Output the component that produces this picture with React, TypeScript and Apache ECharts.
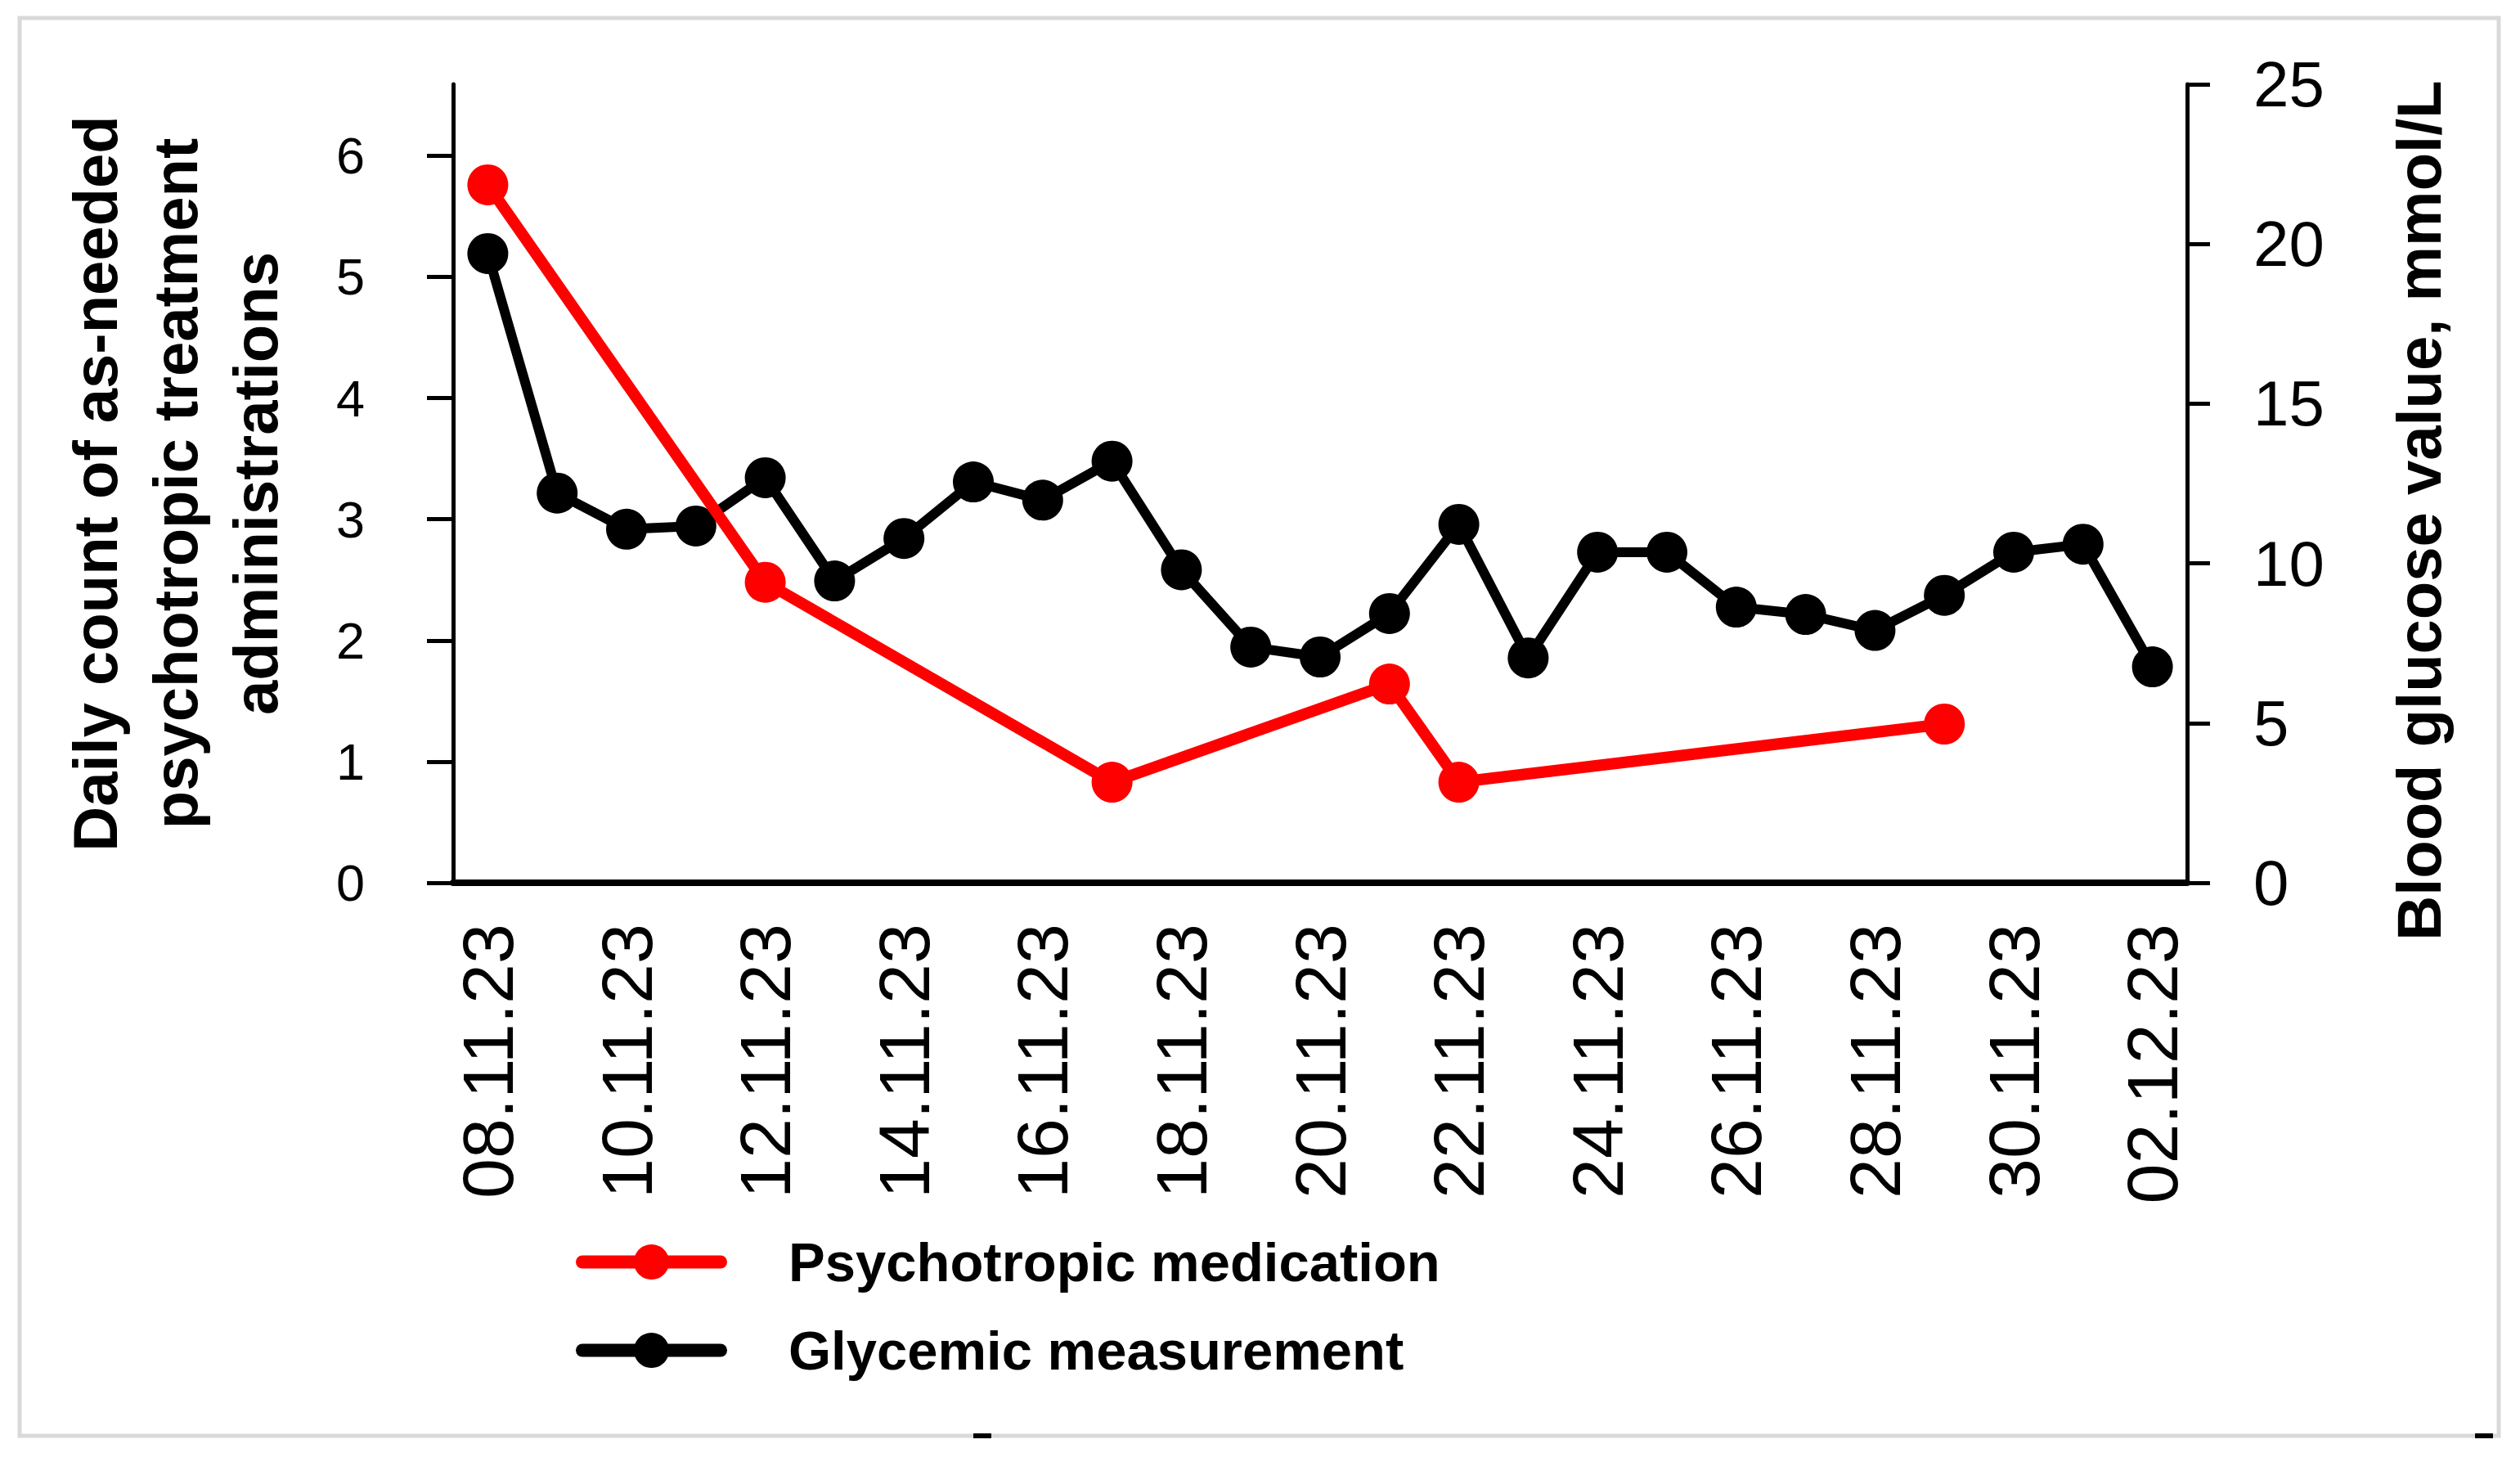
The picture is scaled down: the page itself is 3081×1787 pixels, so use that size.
import React, { useEffect, useRef } from "react";
import * as echarts from "echarts";

const dates = [
  "08.11.23", "09.11.23", "10.11.23", "11.11.23", "12.11.23", "13.11.23", "14.11.23",
  "15.11.23", "16.11.23", "17.11.23", "18.11.23", "19.11.23", "20.11.23", "21.11.23",
  "22.11.23", "23.11.23", "24.11.23", "25.11.23", "26.11.23", "27.11.23", "28.11.23",
  "29.11.23", "30.11.23", "01.12.23", "02.12.23",
];

const glucose = [
  19.7, 12.2, 11.07, 11.17, 12.68, 9.45, 10.78, 12.55, 11.98, 13.2, 9.8, 7.38, 7.07,
  8.43, 11.22, 7.04, 10.35, 10.35, 8.63, 8.4, 7.9, 9.0, 10.35, 10.6, 6.76,
];

const medication: (number | null)[] = [
  5.76, null, null, null, 2.48, null, null, null, null, 0.83, null, null, null,
  1.64, 0.83, null, null, null, null, null, null, 1.31, null, null, null,
];

const seriesNames = ["Psychotropic medication", "Glycemic measurement"];
const leftTitle = "Daily count of as-needed\npsychotropic treatment\nadministrations";
const rightTitle = "Blood glucose value, mmol/L";

const FONT = "'Liberation Sans', Arial, sans-serif";

export default function App() {
  const ref = useRef<HTMLDivElement>(null);
  useEffect(() => {
    if (!ref.current) return;
    const chart = echarts.init(ref.current, null, { renderer: "svg" });
    chart.setOption({
      animation: false,
      backgroundColor: "#ffffff",
      textStyle: { fontFamily: FONT, color: "#000" },
      grid: { left: 554, right: 407, top: 103, bottom: 708, containLabel: false },
      graphic: [
        {
          type: "rect",
          shape: { x: 24, y: 22, width: 3031, height: 1733 },
          style: { fill: "none", stroke: "#d9d9d9", lineWidth: 5 },
          silent: true,
        },
        { type: "rect", shape: { x: 1190, y: 1752, width: 22, height: 6 }, style: { fill: "#000" } },
        { type: "rect", shape: { x: 3026, y: 1752, width: 22, height: 6 }, style: { fill: "#000" } },
      ],
      legend: {
        orient: "vertical",
        left: 699,
        top: 1504,
        itemWidth: 169,
        itemHeight: 54,
        itemGap: 41,
        data: seriesNames,
        lineStyle: { width: 16, cap: "round" },
        textStyle: {
          fontFamily: FONT,
          fontSize: 67,
          fontWeight: "bold",
          color: "#000",
          lineHeight: 67,
          padding: [0, 0, 0, 78],
        },
      },
      xAxis: {
        type: "category",
        data: dates,
        boundaryGap: true,
        axisLine: { lineStyle: { color: "#000", width: 8 } },
        axisTick: { interval: 1, length: 25, lineStyle: { color: "#000", width: 5 } },
        axisLabel: {
          interval: 1,
          rotate: 90,
          margin: 50,
          fontSize: 88,
          color: "#000",
          fontFamily: FONT,
        },
        splitLine: { show: false },
      },
      yAxis: [
        {
          type: "value",
          position: "left",
          min: 0,
          max: 6.59,
          interval: 1,
          name: leftTitle,
          nameLocation: "middle",
          nameGap: 193,
          nameTextStyle: {
            fontFamily: FONT,
            fontSize: 76,
            fontWeight: "bold",
            color: "#000",
            lineHeight: 98,
          },
          axisLine: { show: true, lineStyle: { color: "#000", width: 5 } },
          axisTick: { show: true, length: 32, lineStyle: { color: "#000", width: 5 } },
          axisLabel: { margin: 108, fontSize: 63, color: "#000", fontFamily: FONT, showMaxLabel: false },
          splitLine: { show: false },
        },
        {
          type: "value",
          position: "right",
          min: 0,
          max: 25,
          interval: 5,
          name: rightTitle,
          nameLocation: "middle",
          nameGap: 245,
          nameTextStyle: {
            fontFamily: FONT,
            fontSize: 76,
            fontWeight: "bold",
            color: "#000",
            padding: [0, 66, 0, 0],
          },
          axisLine: { show: true, lineStyle: { color: "#000", width: 5 } },
          axisTick: { show: true, length: 28, lineStyle: { color: "#000", width: 5 } },
          axisLabel: { margin: 81, fontSize: 78, color: "#000", fontFamily: FONT },
          splitLine: { show: false },
        },
      ],
      series: [
        {
          name: seriesNames[0],
          type: "line",
          yAxisIndex: 0,
          data: medication,
          connectNulls: true,
          showAllSymbol: true,
          symbol: "circle",
          symbolSize: 50,
          z: 3,
          itemStyle: { color: "#ff0000" },
          lineStyle: { color: "#ff0000", width: 14 },
        },
        {
          name: seriesNames[1],
          type: "line",
          yAxisIndex: 1,
          data: glucose,
          showAllSymbol: true,
          symbol: "circle",
          symbolSize: 50,
          z: 2,
          itemStyle: { color: "#000000" },
          lineStyle: { color: "#000000", width: 12 },
        },
      ],
    });
    return () => chart.dispose();
  }, []);
  return (
    <div
      ref={ref}
      style={{ position: "absolute", left: 0, top: 0, width: 3081, height: 1787, background: "#fff" }}
    />
  );
}
